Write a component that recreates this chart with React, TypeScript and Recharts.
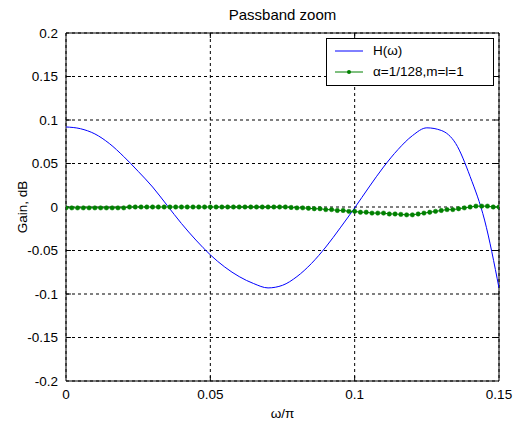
import {
  LineChart,
  Line,
  CartesianGrid,
  XAxis,
  YAxis,
  ReferenceArea,
  ReferenceLine,
} from "recharts";

// normalized frequency (ω/π) for the ideal response, step 0.005
const omegaH = [
  0, 0.005, 0.01, 0.015, 0.02, 0.025, 0.03, 0.035, 0.04, 0.045, 0.05, 0.055,
  0.06, 0.065, 0.07, 0.075, 0.08, 0.085, 0.09, 0.095, 0.1, 0.105, 0.11, 0.115,
  0.12, 0.125, 0.13, 0.135, 0.14, 0.145, 0.15,
];
const gainH = [
  0.092, 0.09, 0.084, 0.073, 0.058, 0.041, 0.023, 0.002, -0.019, -0.038,
  -0.055, -0.069, -0.08, -0.088, -0.093, -0.09, -0.08, -0.065, -0.046,
  -0.024, -0.001, 0.023, 0.046, 0.066, 0.082, 0.091, 0.088, 0.073, 0.035,
  -0.015, -0.093,
];

// quantized filter, sampled every 0.002
const gainQ = [
  -0.001, -0.001, -0.001, -0.001, -0.001, -0.001, -0.001, -0.001, -0.001,
  -0.001, -0.001, 0, 0, 0, 0, 0, 0, 0, 0, 0, 0, 0, 0, 0, 0, 0, 0, 0, 0, 0, 0,
  0, 0, 0, 0, 0, 0, 0, 0, -0.0005, -0.001, -0.001, -0.0015, -0.002, -0.002,
  -0.003, -0.003, -0.004, -0.004, -0.005, -0.005, -0.006, -0.006, -0.007,
  -0.007, -0.007, -0.008, -0.008, -0.0085, -0.009, -0.009, -0.008, -0.007,
  -0.006, -0.005, -0.004, -0.003, -0.003, -0.002, -0.001, 0, 0.001, 0.001,
  0.001, 0, 0,
];
const omegaQ = gainQ.map((_, i) => Number((i * 0.002).toFixed(3)));

const xTicks = [0, 0.05, 0.1, 0.15];
const yTicks = [-0.2, -0.15, -0.1, -0.05, 0, 0.05, 0.1, 0.15, 0.2];

const dataH = omegaH.map((w, i) => ({ w, g: gainH[i] }));
const dataQ = omegaQ.map((w, i) => ({ w, g: gainQ[i] }));

const font = "'Liberation Sans', Arial, sans-serif";
const fs = 13.5;
const tickStyle = { fill: "#000", fontSize: fs, fontFamily: font };

export default function App() {
  const tx = 0.0017;
  const ty = 0.0058;
  return (
    <div
      style={{
        position: "absolute",
        left: 0,
        top: 0,
        width: 515,
        height: 425,
        background: "#fff",
        fontFamily: font,
      }}
    >
      <LineChart
        width={515}
        height={425}
        margin={{ top: 33, right: 16, left: 0, bottom: 0 }}
      >
        <CartesianGrid stroke="#000" strokeDasharray="3 3" strokeWidth={1} />
        <XAxis
          dataKey="w"
          type="number"
          domain={[0, 0.15]}
          ticks={xTicks}
          allowDataOverflow
          height={44}
          axisLine={false}
          tickLine={false}
          tick={tickStyle}
          tickFormatter={(v: number) => String(v)}
          label={{
            value: "ω/π",
            position: "insideBottom",
            offset: 7,
            style: { fill: "#000", fontSize: fs, fontFamily: font },
          }}
        />
        <YAxis
          type="number"
          domain={[-0.2, 0.2]}
          ticks={yTicks}
          allowDataOverflow
          width={66}
          axisLine={false}
          tickLine={false}
          tick={tickStyle}
          tickFormatter={(v: number) => String(v)}
          label={{
            value: "Gain, dB",
            angle: -90,
            position: "insideLeft",
            offset: 22,
            style: {
              fill: "#000",
              fontSize: fs,
              fontFamily: font,
              textAnchor: "middle",
            },
          }}
        />
        {xTicks.slice(1, -1).map((t) => (
          <ReferenceLine
            key={"xb" + t}
            segment={[
              { x: t, y: -0.2 },
              { x: t, y: -0.2 + ty },
            ]}
            stroke="#000"
          />
        ))}
        {xTicks.slice(1, -1).map((t) => (
          <ReferenceLine
            key={"xt" + t}
            segment={[
              { x: t, y: 0.2 },
              { x: t, y: 0.2 - ty },
            ]}
            stroke="#000"
          />
        ))}
        {yTicks.slice(1, -1).map((t) => (
          <ReferenceLine
            key={"yl" + t}
            segment={[
              { x: 0, y: t },
              { x: tx, y: t },
            ]}
            stroke="#000"
          />
        ))}
        {yTicks.slice(1, -1).map((t) => (
          <ReferenceLine
            key={"yr" + t}
            segment={[
              { x: 0.15, y: t },
              { x: 0.15 - tx, y: t },
            ]}
            stroke="#000"
          />
        ))}
        <Line
          data={dataH}
          dataKey="g"
          type="monotone"
          stroke="#0000ff"
          strokeWidth={1}
          dot={false}
          isAnimationActive={false}
        />
        <Line
          data={dataQ}
          dataKey="g"
          type="linear"
          stroke="#008000"
          strokeWidth={1}
          dot={{ r: 2.2, fill: "#008000", stroke: "#008000", strokeWidth: 0.5 }}
          isAnimationActive={false}
        />
        <ReferenceArea
          x1={0}
          x2={0.15}
          y1={-0.2}
          y2={0.2}
          fill="none"
          fillOpacity={0}
          stroke="#000"
          strokeWidth={1}
        />
      </LineChart>

      <div
        style={{
          position: "absolute",
          left: 66,
          width: 433,
          top: 6,
          textAlign: "center",
          fontSize: 15,
        }}
      >
        Passband zoom
      </div>

      <div
        style={{
          position: "absolute",
          left: 326,
          top: 38,
          width: 166,
          height: 46,
          border: "1px solid #000",
          background: "#fff",
          fontSize: fs,
        }}
      >
        <div style={{ position: "absolute", left: 8, top: 4, display: "flex", alignItems: "center" }}>
          <svg width={30} height={14}>
            <line x1={0} y1={7} x2={28} y2={7} stroke="#0000ff" strokeWidth={1} />
          </svg>
          <span style={{ marginLeft: 8 }}>H(ω)</span>
        </div>
        <div style={{ position: "absolute", left: 8, top: 25, display: "flex", alignItems: "center" }}>
          <svg width={30} height={14}>
            <line x1={0} y1={7} x2={28} y2={7} stroke="#008000" strokeWidth={1} />
            <circle cx={14} cy={7} r={2} fill="#008000" />
          </svg>
          <span style={{ marginLeft: 8 }}>α=1/128,m=l=1</span>
        </div>
      </div>
    </div>
  );
}
